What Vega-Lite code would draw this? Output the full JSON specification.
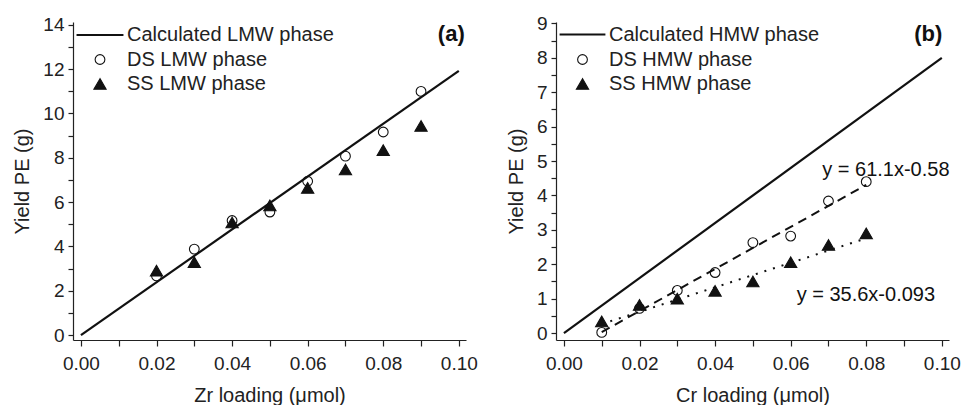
{
  "$schema": "https://vega.github.io/schema/vega-lite/v6.json",
  "background": "white",
  "padding": {"left": 12, "top": 10, "right": 5, "bottom": 0},
  "spacing": 28,
  "config": {
    "font": "Liberation Sans",
    "view": {"stroke": null},
    "axis": {
      "grid": false,
      "domainColor": "#222",
      "tickColor": "#222",
      "labelColor": "#222",
      "titleColor": "#222",
      "labelFont": "Liberation Sans",
      "titleFont": "Liberation Sans",
      "labelFontSize": 19,
      "titleFontSize": 20,
      "titleFontWeight": "normal",
      "domainWidth": 1.2,
      "tickWidth": 1.2
    },
    "legend": {
      "labelFont": "Liberation Sans",
      "labelFontSize": 20,
      "labelColor": "#222",
      "labelLimit": 400,
      "padding": 0,
      "rowPadding": 4.5,
      "labelOffset": 2
    }
  },
  "datasets": {
    "lmw": [
      {"loading": 0.0, "yield": 0.0, "series": "Calculated LMW phase"},
      {"loading": 0.1, "yield": 11.92, "series": "Calculated LMW phase"},
      {"loading": 0.02, "yield": 2.67, "series": "DS LMW phase"},
      {"loading": 0.03, "yield": 3.88, "series": "DS LMW phase"},
      {"loading": 0.04, "yield": 5.17, "series": "DS LMW phase"},
      {"loading": 0.05, "yield": 5.55, "series": "DS LMW phase"},
      {"loading": 0.06, "yield": 6.94, "series": "DS LMW phase"},
      {"loading": 0.07, "yield": 8.07, "series": "DS LMW phase"},
      {"loading": 0.08, "yield": 9.16, "series": "DS LMW phase"},
      {"loading": 0.09, "yield": 10.99, "series": "DS LMW phase"},
      {"loading": 0.02, "yield": 2.91, "series": "SS LMW phase"},
      {"loading": 0.03, "yield": 3.29, "series": "SS LMW phase"},
      {"loading": 0.04, "yield": 5.08, "series": "SS LMW phase"},
      {"loading": 0.05, "yield": 5.85, "series": "SS LMW phase"},
      {"loading": 0.06, "yield": 6.64, "series": "SS LMW phase"},
      {"loading": 0.07, "yield": 7.47, "series": "SS LMW phase"},
      {"loading": 0.08, "yield": 8.34, "series": "SS LMW phase"},
      {"loading": 0.09, "yield": 9.43, "series": "SS LMW phase"},
      {"loading": 0.098, "yield": 13.58, "series": "panel", "text": "(a)"}
    ],
    "hmw": [
      {"loading": 0.0, "yield": 0.0, "series": "Calculated HMW phase"},
      {"loading": 0.1, "yield": 8.0, "series": "Calculated HMW phase"},
      {"loading": 0.01, "yield": 0.02, "series": "DS HMW phase"},
      {"loading": 0.02, "yield": 0.72, "series": "DS HMW phase"},
      {"loading": 0.03, "yield": 1.24, "series": "DS HMW phase"},
      {"loading": 0.04, "yield": 1.76, "series": "DS HMW phase"},
      {"loading": 0.05, "yield": 2.63, "series": "DS HMW phase"},
      {"loading": 0.06, "yield": 2.82, "series": "DS HMW phase"},
      {"loading": 0.07, "yield": 3.84, "series": "DS HMW phase"},
      {"loading": 0.08, "yield": 4.40, "series": "DS HMW phase"},
      {"loading": 0.01, "yield": 0.34, "series": "SS HMW phase"},
      {"loading": 0.02, "yield": 0.82, "series": "SS HMW phase"},
      {"loading": 0.03, "yield": 1.00, "series": "SS HMW phase"},
      {"loading": 0.04, "yield": 1.23, "series": "SS HMW phase"},
      {"loading": 0.05, "yield": 1.50, "series": "SS HMW phase"},
      {"loading": 0.06, "yield": 2.06, "series": "SS HMW phase"},
      {"loading": 0.07, "yield": 2.56, "series": "SS HMW phase"},
      {"loading": 0.08, "yield": 2.90, "series": "SS HMW phase"},
      {"loading": 0.01, "yield": 0.031, "series": "DS fit"},
      {"loading": 0.08, "yield": 4.308, "series": "DS fit"},
      {"loading": 0.01, "yield": 0.263, "series": "SS fit"},
      {"loading": 0.08, "yield": 2.755, "series": "SS fit"},
      {"loading": 0.0964, "yield": 8.70, "series": "panel", "text": "(b)"},
      {"loading": 0.0852, "yield": 4.73, "series": "eq", "text": "y = 61.1x-0.58"},
      {"loading": 0.0799, "yield": 1.11, "series": "eq", "text": "y = 35.6x-0.093"}
    ]
  },
  "hconcat": [
    {
      "width": 393,
      "height": 318,
      "data": {"name": "lmw"},
      "encoding": {
        "x": {
          "field": "loading", "type": "quantitative",
          "scale": {"domain": [-0.0021, 0.1019], "nice": false, "zero": false},
          "axis": {
            "title": "Zr loading (μmol)",
            "values": [0, 0.01, 0.02, 0.03, 0.04, 0.05, 0.06, 0.07, 0.08, 0.09, 0.1],
            "labelExpr": "round(datum.value*100)%2==0 ? format(datum.value,'.2f') : ''",
            "tickSize": 6, "labelPadding": 8, "titlePadding": 12, "labelFlush": false,
            "encode": {"ticks": {"update": {"y2": {"signal": "round(datum.value*100)%2==0 ? 6 : 3"}}}}
          }
        },
        "y": {
          "field": "yield", "type": "quantitative",
          "scale": {"domain": [-0.22, 14.12], "nice": false, "zero": false},
          "axis": {
            "title": "Yield PE (g)",
            "values": [0, 1, 2, 3, 4, 5, 6, 7, 8, 9, 10, 11, 12, 13, 14],
            "labelExpr": "round(datum.value)%2==0 ? datum.label : ''",
            "tickSize": 5, "labelPadding": 4, "titlePadding": 10, "labelFlush": false,
            "encode": {"ticks": {"update": {"x2": {"signal": "round(datum.value)%2==0 ? -5 : -3"}}}}
          }
        }
      },
      "layer": [
        {
          "transform": [{"filter": "datum.series == 'Calculated LMW phase'"}],
          "mark": {"type": "line", "color": "#111", "strokeWidth": 2.2}
        },
        {
          "transform": [{"filter": "datum.series == 'DS LMW phase' || datum.series == 'SS LMW phase'"}],
          "mark": {"type": "point", "opacity": 1},
          "encoding": {
            "shape": {"field": "series", "type": "nominal",
              "scale": {"domain": ["Calculated LMW phase", "DS LMW phase", "SS LMW phase"], "range": ["stroke", "circle", "triangle-up"]},
              "legend": {"title": null, "orient": "none", "legendX": 2, "legendY": -12}},
            "stroke": {"field": "series", "type": "nominal",
              "scale": {"domain": ["Calculated LMW phase", "DS LMW phase", "SS LMW phase"], "range": ["#111", "#111", "#111"]},
              "legend": {"title": null, "orient": "none", "legendX": 2, "legendY": -12}},
            "fill": {"field": "series", "type": "nominal",
              "scale": {"domain": ["Calculated LMW phase", "DS LMW phase", "SS LMW phase"], "range": ["#111", "transparent", "#111"]},
              "legend": {"title": null, "orient": "none", "legendX": 2, "legendY": -12}},
            "size": {"field": "series", "type": "nominal",
              "scale": {"type": "ordinal", "domain": ["Calculated LMW phase", "DS LMW phase", "SS LMW phase"], "range": [2200, 95, 150]},
              "legend": {"title": null, "orient": "none", "legendX": 2, "legendY": -12}},
            "strokeWidth": {"field": "series", "type": "nominal",
              "scale": {"type": "ordinal", "domain": ["Calculated LMW phase", "DS LMW phase", "SS LMW phase"], "range": [2.2, 1.1, 1.1]},
              "legend": {"title": null, "orient": "none", "legendX": 2, "legendY": -12}}
          }
        },
        {
          "transform": [{"filter": "datum.series == 'panel'"}],
          "mark": {"type": "text", "font": "Liberation Sans", "fontSize": 22, "fontWeight": "bold", "color": "#111", "align": "center", "baseline": "middle"},
          "encoding": {"text": {"field": "text"}}
        }
      ]
    },
    {
      "width": 393,
      "height": 318,
      "data": {"name": "hmw"},
      "encoding": {
        "x": {
          "field": "loading", "type": "quantitative",
          "scale": {"domain": [-0.0021, 0.1019], "nice": false, "zero": false},
          "axis": {
            "title": "Cr loading (μmol)",
            "values": [0, 0.01, 0.02, 0.03, 0.04, 0.05, 0.06, 0.07, 0.08, 0.09, 0.1],
            "labelExpr": "round(datum.value*100)%2==0 ? format(datum.value,'.2f') : ''",
            "tickSize": 6, "labelPadding": 8, "titlePadding": 12, "labelFlush": false,
            "encode": {"ticks": {"update": {"y2": {"signal": "round(datum.value*100)%2==0 ? 6 : 3"}}}}
          }
        },
        "y": {
          "field": "yield", "type": "quantitative",
          "scale": {"domain": [-0.2, 9.04], "nice": false, "zero": false},
          "axis": {
            "title": "Yield PE (g)",
            "values": [0, 0.5, 1, 1.5, 2, 2.5, 3, 3.5, 4, 4.5, 5, 5.5, 6, 6.5, 7, 7.5, 8, 8.5, 9],
            "labelExpr": "round(datum.value*2)%2==0 ? format(datum.value,'d') : ''",
            "tickSize": 5, "labelPadding": 4, "titlePadding": 10, "labelFlush": false,
            "encode": {"ticks": {"update": {"x2": {"signal": "round(datum.value*2)%2==0 ? -5 : -3"}}}}
          }
        }
      },
      "layer": [
        {
          "transform": [{"filter": "datum.series == 'Calculated HMW phase'"}],
          "mark": {"type": "line", "color": "#111", "strokeWidth": 2.2}
        },
        {
          "transform": [{"filter": "datum.series == 'DS fit'"}],
          "mark": {"type": "line", "color": "#111", "strokeWidth": 2, "strokeDash": [9, 6]}
        },
        {
          "transform": [{"filter": "datum.series == 'SS fit'"}],
          "mark": {"type": "line", "color": "#111", "strokeWidth": 2, "strokeDash": [2, 7]}
        },
        {
          "transform": [{"filter": "datum.series == 'DS HMW phase' || datum.series == 'SS HMW phase'"}],
          "mark": {"type": "point", "opacity": 1},
          "encoding": {
            "shape": {"field": "series", "type": "nominal",
              "scale": {"domain": ["Calculated HMW phase", "DS HMW phase", "SS HMW phase"], "range": ["stroke", "circle", "triangle-up"]},
              "legend": {"title": null, "orient": "none", "legendX": 2, "legendY": -12}},
            "stroke": {"field": "series", "type": "nominal",
              "scale": {"domain": ["Calculated HMW phase", "DS HMW phase", "SS HMW phase"], "range": ["#111", "#111", "#111"]},
              "legend": {"title": null, "orient": "none", "legendX": 2, "legendY": -12}},
            "fill": {"field": "series", "type": "nominal",
              "scale": {"domain": ["Calculated HMW phase", "DS HMW phase", "SS HMW phase"], "range": ["#111", "transparent", "#111"]},
              "legend": {"title": null, "orient": "none", "legendX": 2, "legendY": -12}},
            "size": {"field": "series", "type": "nominal",
              "scale": {"type": "ordinal", "domain": ["Calculated HMW phase", "DS HMW phase", "SS HMW phase"], "range": [2100, 95, 150]},
              "legend": {"title": null, "orient": "none", "legendX": 2, "legendY": -12}},
            "strokeWidth": {"field": "series", "type": "nominal",
              "scale": {"type": "ordinal", "domain": ["Calculated HMW phase", "DS HMW phase", "SS HMW phase"], "range": [2.2, 1.1, 1.1]},
              "legend": {"title": null, "orient": "none", "legendX": 2, "legendY": -12}}
          }
        },
        {
          "transform": [{"filter": "datum.series == 'panel'"}],
          "mark": {"type": "text", "font": "Liberation Sans", "fontSize": 22, "fontWeight": "bold", "color": "#111", "align": "center", "baseline": "middle"},
          "encoding": {"text": {"field": "text"}}
        },
        {
          "transform": [{"filter": "datum.series == 'eq'"}],
          "mark": {"type": "text", "font": "Liberation Sans", "fontSize": 20, "color": "#111", "align": "center", "baseline": "middle"},
          "encoding": {"text": {"field": "text"}}
        }
      ],
      "resolve": {"scale": {"shape": "independent", "fill": "independent", "size": "independent", "stroke": "independent", "strokeWidth": "independent"}}
    }
  ],
  "resolve": {"scale": {"shape": "independent", "fill": "independent", "size": "independent", "stroke": "independent", "strokeWidth": "independent"}, "legend": {"shape": "independent", "fill": "independent", "size": "independent", "stroke": "independent", "strokeWidth": "independent"}}
}
